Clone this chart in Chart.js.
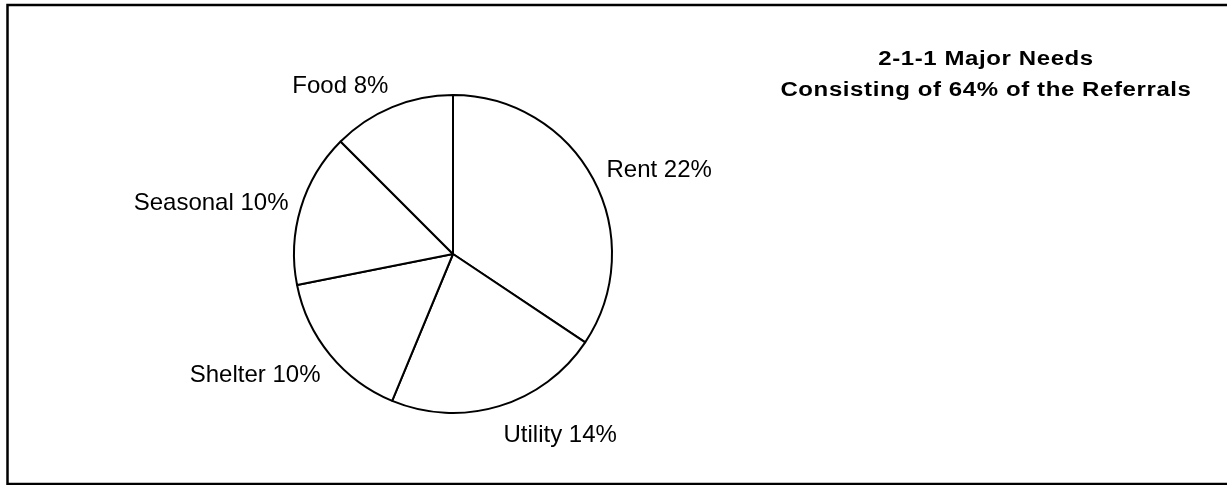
<!DOCTYPE html>
<html>
<head>
<meta charset="utf-8">
<script src="https://cdn.jsdelivr.net/npm/chart.js@4.4.1/dist/chart.umd.min.js"></script>
<style>
  html, body { margin: 0; padding: 0; background: #fff; }
  #wrap { width: 1227px; height: 485px; position: relative; }
</style>
</head>
<body>
<div id="wrap"><canvas id="c" width="1227" height="485"></canvas></div>
<script>
const categories = ["Rent", "Utility", "Shelter", "Seasonal", "Food"];
const values = [22, 14, 10, 10, 8];
const titleLines = ["2-1-1 Major Needs", "Consisting of 64% of the Referrals"];

const frameAndTitle = {
  id: 'frameAndTitle',
  beforeDraw(chart) {
    const ctx = chart.ctx;
    ctx.save();
    ctx.fillStyle = '#fff';
    ctx.fillRect(0, 0, chart.width, chart.height);
    ctx.strokeStyle = '#000';
    ctx.lineWidth = 2.5;
    ctx.strokeRect(7.5, 5, chart.width + 10, chart.height - 6);
    ctx.restore();
  },
  afterDraw(chart) {
    const ctx = chart.ctx;
    ctx.save();
    ctx.fillStyle = '#000';
    ctx.font = 'bold 20px "Liberation Sans", Arial, sans-serif';
    ctx.textAlign = 'center';
    ctx.textBaseline = 'middle';
    try { ctx.letterSpacing = '0.5px'; } catch (e) {}
    ctx.translate(986, 0);
    ctx.scale(1.2, 1);
    ctx.fillText(titleLines[0], 0, 59);
    ctx.fillText(titleLines[1], 0, 90);
    ctx.restore();
  }
};

const outsideLabels = {
  id: 'outsideLabels',
  afterDatasetsDraw(chart) {
    const ctx = chart.ctx;
    const meta = chart.getDatasetMeta(0);
    ctx.save();
    ctx.fillStyle = '#000';
    ctx.font = '24px "Liberation Sans", Arial, sans-serif';
    ctx.textBaseline = 'middle';
    meta.data.forEach((arc, i) => {
      const p = arc.getProps(['x', 'y', 'startAngle', 'endAngle', 'outerRadius'], true);
      const mid = (p.startAngle + p.endAngle) / 2;
      const dx = Math.cos(mid), dy = Math.sin(mid);
      const R = p.outerRadius + 15;
      const px = p.x + dx * R + (dx >= 0 ? 0 : 2);
      const py = p.y + dy * (R + 11.5) + 3.5;
      const text = categories[i] + ' ' + values[i] + '%';
      ctx.textAlign = dx >= 0 ? 'left' : 'right';
      ctx.fillText(text, px, py);
    });
    ctx.restore();
  }
};

new Chart(document.getElementById('c'), {
  type: 'pie',
  data: {
    labels: categories,
    datasets: [{
      data: values,
      backgroundColor: '#ffffff',
      borderColor: '#000000',
      borderWidth: 2,
      hoverOffset: 0
    }]
  },
  options: {
    responsive: false,
    animation: false,
    events: [],
    layout: { padding: { top: 94, bottom: 71, left: 293, right: 614 } },
    plugins: {
      legend: { display: false },
      title: { display: false },
      tooltip: { enabled: false }
    }
  },
  plugins: [frameAndTitle, outsideLabels]
});
</script>
</body>
</html>
